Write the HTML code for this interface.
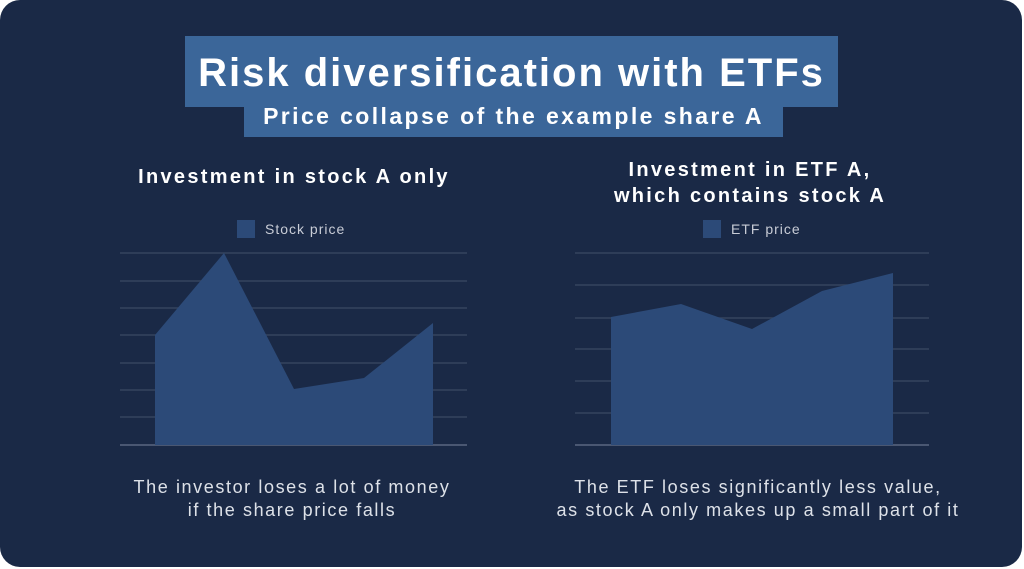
<!DOCTYPE html>
<html><head><style>
body{margin:0;background:#fff;width:1024px;height:569px;overflow:hidden;font-family:"Liberation Sans",sans-serif}
.card{position:absolute;left:0;top:0;width:1022px;height:567px;background:#1a2946;border-radius:20px}
.t1{position:absolute;left:185px;top:36px;width:653px;height:71px;background:#3b6699;color:#fff;font-weight:bold;font-size:40px;line-height:74px;text-align:center;letter-spacing:2px}
.t2{position:absolute;left:244px;top:103px;width:539px;height:34px;background:#3b6699;color:#fff;font-weight:bold;font-size:23px;line-height:26px;text-align:center;letter-spacing:2.4px}
.h{position:absolute;color:#fff;font-weight:bold;font-size:20px;text-align:center;line-height:26px;letter-spacing:2.3px}
.lg{position:absolute;color:#c8ccd6;font-size:14px;letter-spacing:1px}
.lg i{display:inline-block;width:18px;height:18px;background:#2c4a78;vertical-align:-4px;margin-right:10px}
.c{position:absolute;color:#dde1e8;font-size:18px;text-align:center;line-height:23px;letter-spacing:1.6px}
</style></head><body>
<div class="card"></div>
<div class="t1">Risk diversification with ETFs</div>
<div class="t2">Price collapse of the example share A</div>
<div class="h" style="left:64px;width:460px;top:164px">Investment in stock A only</div>
<div class="h" style="left:520px;width:460px;top:157px">Investment in ETF A,<br>which contains stock A</div>
<div class="lg" style="left:237px;top:220px"><i></i>Stock price</div>
<div class="lg" style="left:703px;top:220px"><i></i>ETF price</div>
<svg width="1024" height="569" style="position:absolute;left:0;top:0">
<g stroke="#34445f" stroke-width="1.5">
<line x1="120" x2="467" y1="253" y2="253"/><line x1="120" x2="467" y1="281" y2="281"/><line x1="120" x2="467" y1="308" y2="308"/><line x1="120" x2="467" y1="335" y2="335"/><line x1="120" x2="467" y1="363" y2="363"/><line x1="120" x2="467" y1="390" y2="390"/><line x1="120" x2="467" y1="417" y2="417"/><line x1="120" x2="467" y1="445" y2="445" stroke="#5a6780"/>
<line x1="575" x2="929" y1="253" y2="253"/><line x1="575" x2="929" y1="285" y2="285"/><line x1="575" x2="929" y1="318" y2="318"/><line x1="575" x2="929" y1="349" y2="349"/><line x1="575" x2="929" y1="381" y2="381"/><line x1="575" x2="929" y1="413" y2="413"/><line x1="575" x2="929" y1="445" y2="445" stroke="#5a6780"/>
</g>
<polygon fill="#2c4a78" points="155,445 155,335 224,253 294,389 364,378 433,323 433,445"/>
<polygon fill="#2c4a78" points="611,445 611,317 681,304 752,329 822,291 893,273 893,445"/>
</svg>
<div class="c" style="left:42px;width:500px;top:476px">The investor loses a lot of money<br>if the share price falls</div>
<div class="c" style="left:508px;width:500px;top:476px">The ETF loses significantly less value,<br>as stock A only makes up a small part of it</div>
</body></html>
